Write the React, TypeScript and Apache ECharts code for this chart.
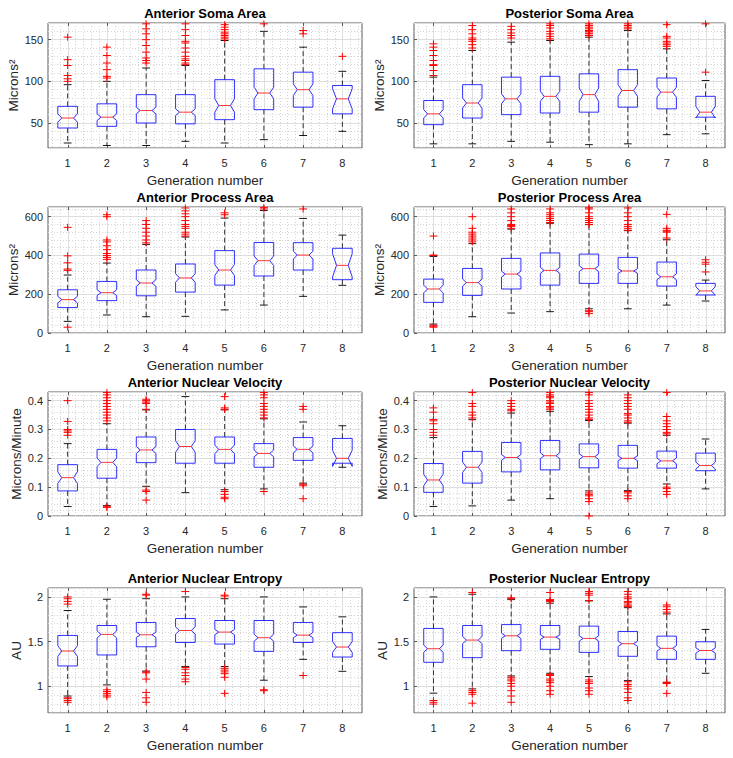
import React, { useEffect, useRef } from "react";
import * as echarts from "echarts";

const generations = [1, 2, 3, 4, 5, 6, 7, 8];

// rows: [whiskerLow, q1, median, q3, whiskerHigh, notchHalfHeight]
const antSomaBoxes = [
  [26, 44, 56, 70, 96, 5],
  [23, 46, 57, 73, 100, 4],
  [23, 50, 65, 84, 116, 4],
  [28, 49, 63, 84, 119, 4],
  [26, 54, 71, 102, 149, 8],
  [30, 66, 86, 115, 160, 7],
  [35, 69, 90, 111, 141, 7],
  [40, 61, 79, 95, 112, 12],
];
const antSomaOutliers = [
  [100, 103, 107, 119, 126, 153],
  [104, 106, 114, 122, 131, 141],
  [122, 125, 128, 135, 143, 150, 157, 163, 169],
  [120, 122, 125, 127, 130, 135, 140, 146, 148, 155, 162, 169],
  [151, 153, 155, 157, 159, 162, 165, 168],
  [169],
  [157, 161],
  [130],
];

const postSomaBoxes = [
  [25, 48, 61, 77, 105, 5],
  [25, 56, 74, 96, 137, 6],
  [28, 60, 79, 105, 147, 6],
  [27, 62, 82, 106, 149, 6],
  [24, 63, 84, 109, 153, 8],
  [25, 69, 89, 114, 161, 7],
  [36, 67, 87, 104, 139, 6],
  [37, 57, 63, 82, 101, 7],
];
const postSomaOutliers = [
  [107, 113, 119, 120, 125, 131, 137, 141, 145],
  [140, 144, 148, 150, 152, 157, 162, 167],
  [152, 155, 158, 162, 166],
  [151, 154, 157, 160, 164, 167, 169],
  [155, 157, 158, 160, 161, 163, 165, 167, 169],
  [163, 165, 167, 169],
  [142, 144, 146, 148, 152, 154, 168],
  [111, 169],
];

const antProcBoxes = [
  [60, 131, 172, 223, 299, 17],
  [93, 167, 208, 266, 361, 15],
  [84, 192, 258, 325, 457, 17],
  [86, 211, 284, 356, 495, 22],
  [119, 247, 325, 425, 593, 28],
  [144, 294, 373, 467, 632, 25],
  [189, 325, 402, 466, 591, 20],
  [246, 275, 349, 437, 505, 60],
];
const antProcOutliers = [
  [30, 323, 330, 362, 398, 545],
  [380, 390, 400, 410, 430, 450, 470, 480, 600, 610],
  [465, 480, 500, 520, 540, 560, 580],
  [500, 510, 520, 540, 550, 560, 580, 600, 615, 630, 645],
  [610, 620],
  [640, 648],
  [640],
  [],
];

const postProcBoxes = [
  [46, 158, 227, 278, 395, 20],
  [84, 194, 260, 333, 461, 18],
  [103, 227, 304, 385, 536, 15],
  [110, 247, 323, 413, 566, 15],
  [125, 256, 332, 407, 559, 15],
  [125, 256, 320, 390, 528, 12],
  [144, 242, 290, 366, 481, 15],
  [165, 196, 217, 256, 273, 22],
];
const postProcOutliers = [
  [30, 35, 40, 400, 402, 500],
  [470, 480, 490, 500, 510, 520, 540, 600],
  [540, 550, 555, 560, 580, 600, 620, 640],
  [570, 580, 590, 600, 610, 620, 640],
  [100, 110, 115, 560, 570, 580, 590, 600, 620, 640, 646],
  [530, 540, 550, 560, 580, 600, 620, 645],
  [490, 520, 525, 530, 540, 612],
  [315, 355, 365, 378],
];

const antVelBoxes = [
  [0.033, 0.087, 0.133, 0.178, 0.251, 0.02],
  [0.036, 0.131, 0.186, 0.231, 0.32, 0.015],
  [0.103, 0.185, 0.229, 0.274, 0.368, 0.012],
  [0.081, 0.183, 0.241, 0.3, 0.414, 0.02],
  [0.091, 0.183, 0.231, 0.274, 0.368, 0.015],
  [0.094, 0.169, 0.217, 0.251, 0.337, 0.012],
  [0.114, 0.193, 0.231, 0.272, 0.326, 0.012],
  [0.169, 0.183, 0.2, 0.269, 0.313, 0.028],
];
const antVelOutliers = [
  [0.28, 0.29, 0.295, 0.3, 0.328, 0.4],
  [0.03, 0.032, 0.33, 0.34, 0.35, 0.36, 0.37, 0.38, 0.39, 0.4, 0.41, 0.42, 0.428],
  [0.055, 0.085, 0.09, 0.37, 0.39, 0.395, 0.4, 0.405],
  [],
  [0.06, 0.065, 0.075, 0.085, 0.37, 0.375, 0.414],
  [0.085, 0.34, 0.35, 0.36, 0.37, 0.38, 0.39, 0.41, 0.42, 0.428],
  [0.06, 0.105, 0.11, 0.37, 0.38],
  [],
];

const postVelBoxes = [
  [0.033, 0.082, 0.125, 0.182, 0.272, 0.02],
  [0.035, 0.114, 0.169, 0.224, 0.334, 0.018],
  [0.055, 0.153, 0.203, 0.255, 0.357, 0.01],
  [0.06, 0.16, 0.209, 0.262, 0.363, 0.01],
  [0.087, 0.167, 0.206, 0.25, 0.331, 0.01],
  [0.088, 0.166, 0.2, 0.245, 0.322, 0.008],
  [0.111, 0.166, 0.191, 0.225, 0.28, 0.01],
  [0.094, 0.157, 0.175, 0.218, 0.267, 0.012],
];
const postVelOutliers = [
  [0.28, 0.29, 0.3, 0.32, 0.33, 0.335, 0.36, 0.375],
  [0.34, 0.35, 0.36, 0.38, 0.39, 0.428],
  [0.365, 0.37, 0.38, 0.39, 0.4],
  [0.37, 0.375, 0.38, 0.39, 0.395, 0.4, 0.41, 0.415, 0.42, 0.428],
  [0.0, 0.05, 0.06, 0.07, 0.075, 0.08, 0.335, 0.34, 0.35, 0.36, 0.37, 0.38, 0.39, 0.4, 0.42, 0.428],
  [0.06, 0.07, 0.08, 0.085, 0.325, 0.33, 0.34, 0.35, 0.355, 0.37, 0.38, 0.39, 0.4, 0.41, 0.42],
  [0.075, 0.085, 0.095, 0.1, 0.285, 0.29, 0.3, 0.31, 0.32, 0.33, 0.345, 0.428],
  [],
];

const antEntBoxes = [
  [0.89, 1.227, 1.394, 1.569, 1.848, 0.06],
  [1.015, 1.35, 1.58, 1.68, 1.974, 0.04],
  [1.17, 1.442, 1.576, 1.714, 1.98, 0.03],
  [1.22, 1.49, 1.624, 1.758, 2.0, 0.04],
  [1.22, 1.472, 1.606, 1.736, 1.98, 0.03],
  [1.067, 1.39, 1.543, 1.736, 2.0, 0.04],
  [1.301, 1.49, 1.572, 1.714, 1.888, 0.03],
  [1.167, 1.327, 1.439, 1.6, 1.777, 0.06],
];
const antEntOutliers = [
  [0.82, 0.84, 0.86, 0.87, 1.92, 1.95, 1.98, 2.0],
  [0.88, 0.9, 0.92, 0.94, 0.96],
  [0.82, 0.87, 0.93, 1.08, 1.15, 1.16, 2.02, 2.03],
  [1.05, 1.08, 1.12, 1.15, 1.19, 1.21, 2.06],
  [0.92, 1.1, 1.14, 1.16, 1.18, 1.2, 2.01, 2.02],
  [0.95, 0.96],
  [1.12],
  [],
];

const postEntBoxes = [
  [0.922, 1.268, 1.42, 1.647, 2.0, 0.04],
  [0.97, 1.32, 1.517, 1.68, 2.03, 0.04],
  [1.115, 1.398, 1.565, 1.69, 1.97, 0.03],
  [1.145, 1.413, 1.55, 1.68, 1.93, 0.025],
  [1.108, 1.379, 1.535, 1.673, 1.955, 0.03],
  [1.063, 1.335, 1.476, 1.613, 1.88, 0.03],
  [1.045, 1.301, 1.424, 1.561, 1.81, 0.03],
  [1.145, 1.301, 1.4, 1.498, 1.636, 0.03],
];
const postEntOutliers = [
  [0.8, 0.82, 0.84],
  [0.81, 0.91, 0.93, 0.95, 2.05],
  [0.82, 0.89, 0.95, 1.0, 1.03, 1.06, 1.08, 1.1, 1.98, 1.99],
  [0.91, 0.95, 1.0, 1.04, 1.06, 1.08, 1.12, 1.13, 1.95, 1.96, 1.97, 2.05],
  [0.91, 0.95, 0.98, 1.03, 1.05, 1.07, 1.96, 2.02, 2.04, 2.06],
  [0.84, 0.87, 0.93, 0.97, 1.0, 1.02, 1.05, 1.89, 1.9, 1.92, 1.94, 1.95, 1.98, 2.0, 2.03, 2.06],
  [0.92, 1.03, 1.04, 1.83, 1.86, 1.89, 1.91],
  [],
];

const panels = [
  { title: "Anterior Soma Area", yName: "Microns²", min: 20, max: 170, step: 50, boxes: antSomaBoxes, outliers: antSomaOutliers },
  { title: "Posterior Soma Area", yName: "Microns²", min: 20, max: 170, step: 50, boxes: postSomaBoxes, outliers: postSomaOutliers },
  { title: "Anterior Process Area", yName: "Microns²", min: 0, max: 650, step: 200, boxes: antProcBoxes, outliers: antProcOutliers },
  { title: "Posterior Process Area", yName: "Microns²", min: 0, max: 650, step: 200, boxes: postProcBoxes, outliers: postProcOutliers },
  { title: "Anterior Nuclear Velocity", yName: "Microns/Minute", min: 0, max: 0.43, step: 0.1, boxes: antVelBoxes, outliers: antVelOutliers },
  { title: "Posterior Nuclear Velocity", yName: "Microns/Minute", min: 0, max: 0.43, step: 0.1, boxes: postVelBoxes, outliers: postVelOutliers },
  { title: "Anterior Nuclear Entropy", yName: "AU", min: 0.7, max: 2.1, step: 0.5, boxes: antEntBoxes, outliers: antEntOutliers },
  { title: "Posterior Nuclear Entropy", yName: "AU", min: 0.7, max: 2.1, step: 0.5, boxes: postEntBoxes, outliers: postEntOutliers },
];

const FONT = "'Liberation Sans', Arial, Helvetica, sans-serif";
const colLeft = [48, 414];
const colWidth = [314, 311];
const rowTop = [23, 207, 392, 588];
const rowHeight = [125, 126, 124, 125];

function isMultiple(v: number, step: number) {
  const r = Math.round(v / step);
  return Math.abs(v - r * step) < step * 1e-6;
}

function buildOption() {
  const grid: any[] = [];
  const xAxis: any[] = [];
  const yAxis: any[] = [];
  const series: any[] = [];
  const graphic: any[] = [];

  panels.forEach((p, i) => {
    const col = i % 2;
    const row = Math.floor(i / 2);
    const left = colLeft[col];
    const width = colWidth[col];
    const top = rowTop[row];
    const height = rowHeight[row];
    grid.push({
      left,
      top,
      width,
      height,
      show: true,
      borderColor: "#5a5a5a",
      borderWidth: 1,
      backgroundColor: "#ffffff",
      containLabel: false,
    });
    graphic.push({
      type: "text",
      x: left + width / 2,
      y: top - 10,
      style: {
        text: p.title,
        fontFamily: FONT,
        fontSize: 13,
        fontWeight: "bold",
        fill: "#000",
        align: "center",
        verticalAlign: "middle",
      },
    });
    xAxis.push({
      type: "value",
      gridIndex: i,
      min: 0.5,
      max: 8.5,
      interval: 0.5,
      axisLine: { show: false },
      axisTick: { show: false },
      splitLine: { show: false },
      axisLabel: {
        formatter: (v: number) => (generations.includes(v) ? String(v) : ""),
        color: "#262626",
        fontSize: 11,
        fontFamily: FONT,
        margin: 9,
      },
      name: "Generation number",
      nameLocation: "middle",
      nameGap: 25,
      nameTextStyle: { color: "#262626", fontSize: 13.5, fontFamily: FONT },
    });
    yAxis.push({
      type: "value",
      gridIndex: i,
      min: p.min,
      max: p.max,
      minInterval: p.step,
      maxInterval: p.step,
      axisLine: { show: false },
      axisTick: { show: true, inside: true, length: 3, lineStyle: { color: "#5a5a5a" } },
      splitLine: { show: true, lineStyle: { color: "#dedede", width: 1 } },
      minorTick: { show: false, splitNumber: 5 },
      minorSplitLine: { show: true, lineStyle: { color: "#d4d4d4", width: 1, type: [1, 2] } },
      axisLabel: {
        formatter: (v: number) =>
          isMultiple(v, p.step) && v >= p.min - 1e-9 && v <= p.max + 1e-9
            ? String(parseFloat(v.toFixed(3)))
            : "",
        showMinLabel: isMultiple(p.min, p.step),
        showMaxLabel: isMultiple(p.max, p.step),
        color: "#262626",
        fontSize: 11,
        fontFamily: FONT,
        margin: 5,
      },
      name: p.yName,
      nameLocation: "middle",
      nameGap: 18,
      nameTextStyle: { color: "#262626", fontSize: 13.5, fontFamily: FONT },
    });

    // vertical grid lines + x ticks (decoration)
    series.push({
      type: "custom",
      xAxisIndex: i,
      yAxisIndex: i,
      z: 1,
      silent: true,
      clip: false,
      data: [[1, p.min]],
      renderItem: (params: any, api: any) => {
        const cs = params.coordSys;
        const children: any[] = [];
        const yTop = cs.y;
        const yBot = cs.y + cs.height;
        for (let k = 3; k <= 42; k++) {
          const xv = k * 0.2;
          if (xv <= 0.5 || xv >= 8.5) continue;
          const px = Math.round(api.coord([xv, p.min])[0]) + 0.5;
          const major = k % 5 === 0;
          children.push({
            type: "line",
            shape: { x1: px, y1: yTop, x2: px, y2: yBot },
            style: major
              ? { stroke: "#dedede", lineWidth: 1 }
              : { stroke: "#d4d4d4", lineWidth: 1, lineDash: [1, 2] },
          });
          if (major) {
            children.push({
              type: "line",
              shape: { x1: px, y1: yBot, x2: px, y2: yBot - 3 },
              style: { stroke: "#5a5a5a", lineWidth: 1 },
            });
            children.push({
              type: "line",
              shape: { x1: px, y1: yTop, x2: px, y2: yTop + 3 },
              style: { stroke: "#5a5a5a", lineWidth: 1 },
            });
          }
        }
        return { type: "group", children };
      },
    });

    // notched boxes
    series.push({
      type: "custom",
      xAxisIndex: i,
      yAxisIndex: i,
      z: 3,
      silent: true,
      data: p.boxes.map((b, k) => [generations[k], ...b]),
      renderItem: (params: any, api: any) => {
        const x = api.value(0);
        const lo = api.value(1);
        const q1 = api.value(2);
        const med = api.value(3);
        const q3 = api.value(4);
        const hi = api.value(5);
        const nh = api.value(6);
        const bw = api.size([0.25, 0])[0];
        const nw = bw * 0.6;
        const cw = api.size([0.1, 0])[0];
        const px = api.coord([x, med])[0];
        const y = (v: number) => api.coord([x, v])[1];
        const nlo = med - nh;
        const nhi = med + nh;
        const pts = [
          [px - bw, y(q1)],
          [px - bw, y(nlo)],
          [px - nw, y(med)],
          [px - bw, y(nhi)],
          [px - bw, y(q3)],
          [px + bw, y(q3)],
          [px + bw, y(nhi)],
          [px + nw, y(med)],
          [px + bw, y(nlo)],
          [px + bw, y(q1)],
        ];
        const dash = { stroke: "#000", lineWidth: 0.8, lineDash: [5, 3] };
        const solid = { stroke: "#000", lineWidth: 0.9 };
        return {
          type: "group",
          children: [
            { type: "line", shape: { x1: px, y1: y(q3), x2: px, y2: y(hi) }, style: dash },
            { type: "line", shape: { x1: px, y1: y(q1), x2: px, y2: y(lo) }, style: dash },
            { type: "line", shape: { x1: px - cw, y1: y(hi), x2: px + cw, y2: y(hi) }, style: solid },
            { type: "line", shape: { x1: px - cw, y1: y(lo), x2: px + cw, y2: y(lo) }, style: solid },
            {
              type: "polygon",
              shape: { points: pts },
              style: { fill: "none", stroke: "#1a1aff", lineWidth: 0.9 },
            },
            {
              type: "line",
              shape: { x1: px - nw, y1: y(med), x2: px + nw, y2: y(med) },
              style: { stroke: "#ff2020", lineWidth: 0.9 },
            },
          ],
        };
      },
    });

    // outliers '+'
    const outData: number[][] = [];
    p.outliers.forEach((arr, k) => arr.forEach((v) => outData.push([generations[k], v])));
    series.push({
      type: "custom",
      xAxisIndex: i,
      yAxisIndex: i,
      z: 4,
      silent: true,
      clip: false,
      data: outData,
      renderItem: (params: any, api: any) => {
        const c = api.coord([api.value(0), api.value(1)]);
        const st = { stroke: "#ff0000", lineWidth: 1 };
        return {
          type: "group",
          children: [
            { type: "line", shape: { x1: c[0] - 4, y1: c[1], x2: c[0] + 4, y2: c[1] }, style: st },
            { type: "line", shape: { x1: c[0], y1: c[1] - 3.5, x2: c[0], y2: c[1] + 3.5 }, style: st },
          ],
        };
      },
    });
  });

  return {
    animation: false,
    backgroundColor: "#ffffff",
    grid,
    xAxis,
    yAxis,
    series,
    graphic,
  };
}

export default function App() {
  const ref = useRef<HTMLDivElement>(null);
  useEffect(() => {
    document.body.style.margin = "0";
    if (!ref.current) return;
    const chart = echarts.init(ref.current, undefined, { renderer: "svg" });
    chart.setOption(buildOption() as any);
    return () => chart.dispose();
  }, []);
  return <div ref={ref} style={{ width: 733, height: 758 }} />;
}
